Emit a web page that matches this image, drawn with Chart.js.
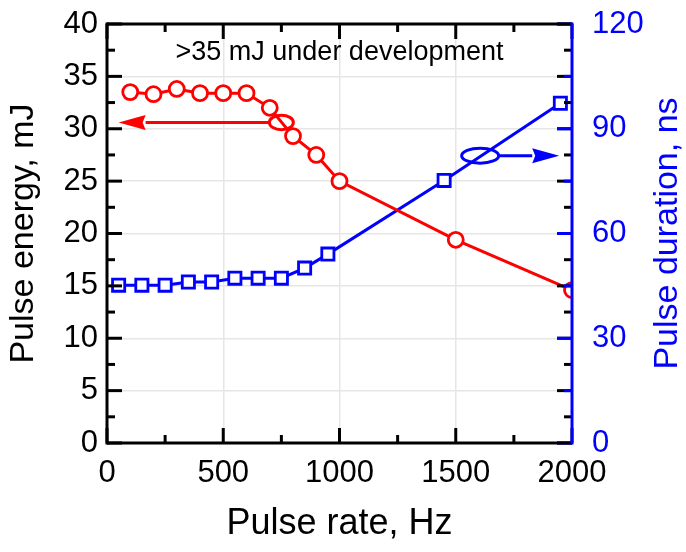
<!DOCTYPE html>
<html>
<head>
<meta charset="utf-8">
<script src="https://cdn.jsdelivr.net/npm/chart.js@4.4.1/dist/chart.umd.min.js"></script>
<style>
  html, body { margin: 0; padding: 0; background: #fff; }
  #wrap { width: 686px; height: 552px; position: relative; }
</style>
</head>
<body>
<div id="wrap"><canvas id="chart"></canvas></div>
<script>
// Pulse energy vs pulse rate (left axis, mJ)
const energyRate = [100, 200, 300, 400, 500, 600, 700, 800, 900, 1000, 1500, 2000];
const energyMJ = [33.5, 33.3, 33.8, 33.4, 33.4, 33.4, 32.0, 29.3, 27.5, 25.0, 19.4, 14.6];

// Pulse duration vs pulse rate (right axis, ns)
const durationRate = [50, 150, 250, 350, 450, 550, 650, 750, 850, 950, 1450, 1950];
const durationNs = [45.2, 45.2, 45.2, 46.1, 46.1, 47.2, 47.2, 47.2, 50.1, 54.1, 75.2, 97.3];

// axis ranges and tick steps
const rateRange = [0, 2000], rateStep = 500;
const energyRange = [0, 40], energyStep = 5;
const durationRange = [0, 120], durationStep = 30;

// annotations (in data units)
const noteText = '>35 mJ under development';
const notePos = { x: 1000, y: 37.25 };
const energyMarker = { x: 750, y: 30.6, arrowTo: 50 };     // arrow to left axis
const durationMarker = { x: 1605, y: 82.3, arrowTo: 1945 }; // arrow to right axis
const durationTitle = 'Pulse duration, ns';

const RED = '#ff0000', BLUE = '#0000ff', FONT = '"Liberation Sans", Arial, sans-serif';

const pts = (xs, ys) => xs.map((x, i) => ({ x: x, y: ys[i] }));

// inward ticks on all four sides, frame, ellipses and arrows
const framePlugin = {
  id: 'frame',
  afterDatasetsDraw(chart) {
    const { ctx, chartArea: a, scales } = chart;
    const sx = scales.x, sy = scales.y, sy1 = scales.y1;
    ctx.save();
    ctx.lineCap = 'butt';

    function line(x1, y1, x2, y2, color, w) {
      ctx.strokeStyle = color;
      ctx.lineWidth = w;
      ctx.beginPath();
      ctx.moveTo(x1, y1);
      ctx.lineTo(x2, y2);
      ctx.stroke();
    }

    // x ticks, bottom and top
    for (let v = rateRange[0]; v <= rateRange[1]; v += rateStep / 2) {
      const px = sx.getPixelForValue(v);
      const len = v % rateStep === 0 ? 15 : 8;
      line(px, a.bottom, px, a.bottom - len, '#000', 3);
      line(px, a.top, px, a.top + len, '#000', 3);
    }
    // left axis ticks, mirrored on the right side
    for (let v = energyRange[0]; v <= energyRange[1]; v += energyStep / 2) {
      const py = sy.getPixelForValue(v);
      const len = v % energyStep === 0 ? 15 : 8;
      line(a.left, py, a.left + len, py, '#000', 3);
      line(a.right, py, a.right - len, py, '#000', 3);
    }
    // right axis ticks in blue
    for (let v = durationRange[0]; v <= durationRange[1]; v += durationStep / 2) {
      const py = sy1.getPixelForValue(v);
      const len = v % durationStep === 0 ? 15 : 8;
      line(a.right, py, a.right - len, py, BLUE, 3);
    }

    // frame
    line(a.left, a.bottom + 1.5, a.left, a.top - 1.5, '#000', 3);
    line(a.left, a.top, a.right, a.top, '#000', 3);
    line(a.left, a.bottom, a.right, a.bottom, '#000', 3);
    line(a.right, a.bottom + 1.5, a.right, a.top - 1.5, BLUE, 3);

    // ellipse + arrow markers
    function marker(m, scaleY, color, rx, ry, dir) {
      const cx = sx.getPixelForValue(m.x), cy = scaleY.getPixelForValue(m.y);
      const tip = sx.getPixelForValue(m.arrowTo);
      ctx.strokeStyle = color;
      ctx.lineWidth = 3;
      ctx.beginPath();
      ctx.ellipse(cx, cy, rx, ry, 0, 0, Math.PI * 2);
      ctx.stroke();
      const base = tip - dir * 27;
      line(cx + dir * rx, cy, base, cy, color, 3);
      ctx.fillStyle = color;
      ctx.beginPath();
      ctx.moveTo(tip, cy);
      ctx.lineTo(base, cy - 7.5);
      ctx.lineTo(base + dir * 3, cy);
      ctx.lineTo(base, cy + 7.5);
      ctx.closePath();
      ctx.fill();
    }
    marker(energyMarker, sy, RED, 12, 7.2, -1);
    marker(durationMarker, sy1, BLUE, 18.5, 7.5, 1);

    // note text
    ctx.fillStyle = '#000';
    ctx.font = '27px ' + FONT;
    ctx.textAlign = 'center';
    ctx.textBaseline = 'middle';
    ctx.fillText(noteText, sx.getPixelForValue(notePos.x), sy.getPixelForValue(notePos.y));

    // right axis title, read bottom to top like the left one
    ctx.fillStyle = BLUE;
    ctx.font = '34px ' + FONT;
    ctx.translate(sy1.right - 18, (a.top + a.bottom) / 2);
    ctx.rotate(-Math.PI / 2);
    ctx.fillText(durationTitle, 0, 0);
    ctx.restore();
  }
};

const tickFont = { family: FONT, size: 31 };
const plainNum = v => String(v);
const noOverflow = s => { s.paddingTop = 0; s.paddingBottom = 0; s.paddingLeft = 0; s.paddingRight = 0; };

new Chart(document.getElementById('chart'), {
  type: 'line',
  data: {
    datasets: [
      {
        data: pts(energyRate, energyMJ),
        yAxisID: 'y',
        borderColor: RED,
        borderWidth: 3,
        tension: 0,
        pointStyle: 'circle',
        pointRadius: 7.5,
        pointBorderWidth: 2.8,
        pointBorderColor: RED,
        pointBackgroundColor: '#fff'
      },
      {
        data: pts(energyRate, energyMJ),
        yAxisID: 'y',
        showLine: false,
        pointRadius: 1.6,
        pointBorderWidth: 0,
        pointBackgroundColor: RED
      },
      {
        data: pts(durationRate, durationNs),
        yAxisID: 'y1',
        borderColor: BLUE,
        borderWidth: 3,
        tension: 0,
        pointStyle: 'rect',
        pointRadius: 8.6,
        pointBorderWidth: 2.8,
        pointBorderColor: BLUE,
        pointBackgroundColor: '#fff'
      },
      {
        data: pts(durationRate, durationNs),
        yAxisID: 'y1',
        showLine: false,
        pointRadius: 1.6,
        pointBorderWidth: 0,
        pointBackgroundColor: BLUE
      }
    ]
  },
  options: {
    responsive: true,
    maintainAspectRatio: false,
    animation: false,
    events: [],
    layout: { padding: { top: 24, left: 0, right: 0, bottom: 0 } },
    plugins: {
      legend: { display: false },
      tooltip: { enabled: false }
    },
    scales: {
      x: {
        type: 'linear',
        min: rateRange[0],
        max: rateRange[1],
        ticks: { stepSize: rateStep, color: '#000', font: tickFont, padding: 12, maxRotation: 0, callback: plainNum },
        grid: { color: '#e6e6e6', lineWidth: 1.5, drawTicks: false },
        border: { display: false },
        title: { display: true, text: 'Pulse rate, Hz', color: '#000', font: { family: FONT, size: 36, lineHeight: 1.2 }, padding: { top: 0, bottom: 6 } },
        afterFit(s) { noOverflow(s); s.height = 109; }
      },
      y: {
        position: 'left',
        min: energyRange[0],
        max: energyRange[1],
        ticks: { stepSize: energyStep, color: '#000', font: tickFont, padding: 9, callback: plainNum },
        grid: { color: '#e6e6e6', lineWidth: 1.5, drawTicks: false },
        border: { display: false },
        title: { display: true, text: 'Pulse energy, mJ', color: '#000', font: { family: FONT, size: 34, lineHeight: 1.2 }, padding: { top: 3, bottom: 0 } },
        afterFit(s) { noOverflow(s); s.width = 107; }
      },
      y1: {
        position: 'right',
        min: durationRange[0],
        max: durationRange[1],
        ticks: { stepSize: durationStep, color: BLUE, font: tickFont, padding: 20, callback: plainNum },
        grid: { drawOnChartArea: false, drawTicks: false },
        border: { display: false },
        title: { display: false },
        afterFit(s) { noOverflow(s); s.width = 114; }
      }
    }
  },
  plugins: [framePlugin]
});
</script>
</body>
</html>
